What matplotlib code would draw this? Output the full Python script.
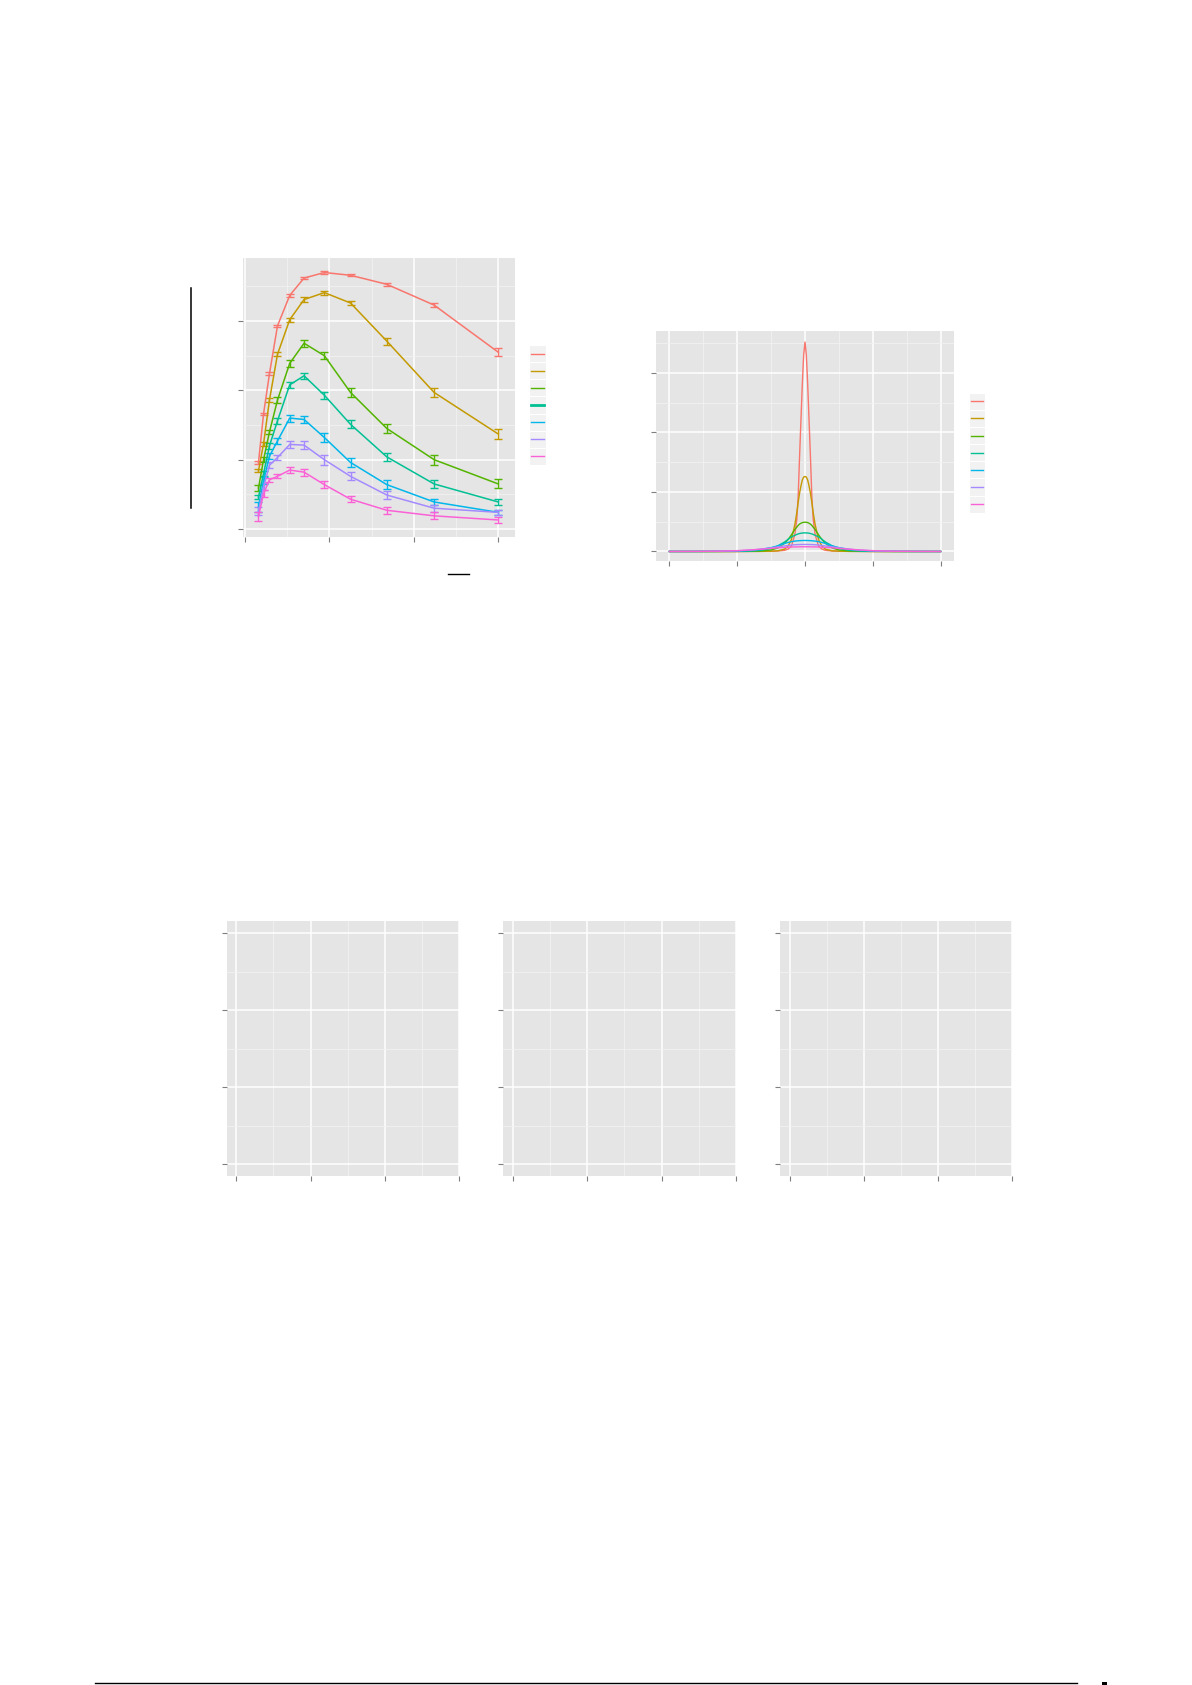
import matplotlib
matplotlib.use("Agg")
import matplotlib.pyplot as plt
import numpy as np

W, H = 1192, 1685

# ggplot default hue palette, 7 groups
colors = ["#F8766D", "#C49A00", "#53B400", "#00C094", "#00B6EB", "#A58AFF", "#FB61D7"]

# ---- left chart: mean curves with error bars ----
x_left = [0.16, 0.22, 0.29, 0.385, 0.53, 0.70, 0.94, 1.25, 1.68, 2.24, 3.0]
y_red    = [0.96, 1.66, 2.24, 2.93, 3.37, 3.62, 3.70, 3.66, 3.53, 3.23, 2.55]
y_orange = [0.84, 1.23, 1.86, 2.52, 3.02, 3.31, 3.41, 3.26, 2.71, 1.97, 1.37]
y_green  = [0.59, 1.00, 1.40, 1.86, 2.39, 2.68, 2.50, 1.97, 1.45, 1.00, 0.65]
y_teal   = [0.46, 0.80, 1.20, 1.56, 2.08, 2.21, 1.93, 1.51, 1.04, 0.65, 0.39]
y_cyan   = [0.32, 0.70, 1.05, 1.27, 1.60, 1.58, 1.32, 0.96, 0.64, 0.39, 0.24]
y_purple = [0.26, 0.61, 0.92, 1.03, 1.22, 1.21, 1.00, 0.76, 0.49, 0.30, 0.24]
y_pink   = [0.18, 0.51, 0.71, 0.76, 0.85, 0.82, 0.64, 0.43, 0.27, 0.19, 0.13]

e_red    = [0.02, 0.02, 0.02, 0.02, 0.02, 0.015, 0.015, 0.015, 0.02, 0.03, 0.055]
e_orange = [0.02, 0.03, 0.03, 0.03, 0.03, 0.03, 0.03, 0.03, 0.05, 0.06, 0.07]
e_green  = [0.04, 0.04, 0.03, 0.04, 0.05, 0.05, 0.05, 0.06, 0.06, 0.07, 0.065]
e_teal   = [0.03, 0.04, 0.04, 0.04, 0.04, 0.04, 0.05, 0.06, 0.06, 0.055, 0.05]
e_cyan   = [0.07, 0.05, 0.04, 0.04, 0.05, 0.05, 0.06, 0.07, 0.06, 0.05, 0.04]
e_purple = [0.06, 0.05, 0.04, 0.04, 0.05, 0.06, 0.07, 0.06, 0.06, 0.05, 0.04]
e_pink   = [0.07, 0.05, 0.03, 0.03, 0.04, 0.05, 0.05, 0.04, 0.05, 0.05, 0.045]

# ---- right chart: peaked profiles (right half, symmetric about 0) ----
x_half = [0, 0.02, 0.04, 0.06, 0.08, 0.10, 0.12, 0.15, 0.20, 0.25, 0.30,
          0.40, 0.50, 0.65, 0.80, 1.0, 1.3, 1.6, 2.0]
p_red    = [3.52, 3.30, 2.80, 2.20, 1.60, 0.95, 0.55, 0.28, 0.09, 0.04, 0.02,
            0.008, 0.004, 0.002, 0.001, 0, 0, 0, 0]
p_orange = [1.26, 1.25, 1.20, 1.10, 0.98, 0.83, 0.66, 0.45, 0.20, 0.09, 0.04,
            0.012, 0.005, 0.002, 0.001, 0, 0, 0, 0]
p_green  = [0.492, 0.49, 0.485, 0.475, 0.46, 0.44, 0.41, 0.37, 0.28, 0.20, 0.14,
            0.06, 0.025, 0.008, 0.003, 0.001, 0, 0, 0]
p_teal   = [0.313, 0.312, 0.31, 0.307, 0.302, 0.295, 0.287, 0.272, 0.245, 0.205, 0.16,
            0.095, 0.05, 0.02, 0.008, 0.003, 0.001, 0, 0]
p_cyan   = [0.185, 0.185, 0.184, 0.183, 0.182, 0.18, 0.178, 0.175, 0.165, 0.152, 0.135,
            0.095, 0.065, 0.035, 0.017, 0.007, 0.002, 0.001, 0]
p_purple = [0.118, 0.118, 0.118, 0.117, 0.116, 0.116, 0.115, 0.113, 0.108, 0.10, 0.093,
            0.08, 0.06, 0.04, 0.024, 0.011, 0.004, 0.001, 0]
p_pink   = [0.079, 0.079, 0.079, 0.079, 0.078, 0.078, 0.077, 0.077, 0.075, 0.071, 0.068,
            0.062, 0.052, 0.038, 0.026, 0.014, 0.005, 0.002, 0]

left_series = [(y_red, e_red), (y_orange, e_orange), (y_green, e_green), (y_teal, e_teal),
               (y_cyan, e_cyan), (y_purple, e_purple), (y_pink, e_pink)]
right_series = [p_red, p_orange, p_green, p_teal, p_cyan, p_purple, p_pink]


def px_axes(fig, left, top, right, bottom):
    # place an axes by its pixel box on the page
    return fig.add_axes([left / W, 1 - bottom / H, (right - left) / W, (bottom - top) / H])


def gg_style(ax, xmaj, ymaj, xmin_, ymin_):
    ax.set_facecolor("#E5E5E5")
    for s in ax.spines.values():
        s.set_visible(False)
    ax.set_xticks(xmaj)
    ax.set_yticks(ymaj)
    ax.set_xticks(xmin_, minor=True)
    ax.set_yticks(ymin_, minor=True)
    ax.grid(which="major", color="white", lw=1.1)
    ax.grid(which="minor", color="#F2F2F2", lw=0.6)
    ax.tick_params(which="major", length=3.5, width=0.8, color="#7F7F7F",
                   labelbottom=False, labelleft=False)
    ax.tick_params(which="minor", length=0)
    ax.set_axisbelow(True)


fig = plt.figure(figsize=(W / 100, H / 100), dpi=100)

# left chart
ax1 = px_axes(fig, 242.7, 258.3, 515, 536.7)
gg_style(ax1, [0, 1, 2, 3], [0, 1, 2, 3], [0.5, 1.5, 2.5], [0.5, 1.5, 2.5, 3.5])
for (ys, es), c in zip(left_series, colors):
    ax1.errorbar(x_left, ys, yerr=es, color=c, lw=1.1, elinewidth=1.0,
                 capsize=2.9, capthick=1.0)
ax1.set_xlim(-0.027, 3.198)
ax1.set_ylim(-0.111, 3.905)

# right chart
ax2 = px_axes(fig, 656, 330.7, 954, 560.7)
gg_style(ax2, [-2, -1, 0, 1, 2], [0, 1, 2, 3], [-1.5, -0.5, 0.5, 1.5], [0.5, 1.5, 2.5, 3.5])
xh = np.array(x_half)
x_full = np.concatenate([-xh[::-1], xh[1:]])
for ys, c in zip(right_series, colors):
    yh = np.array(ys)
    ax2.plot(x_full, np.concatenate([yh[::-1], yh[1:]]), color=c, lw=1.0)
ax2.set_xlim(-2.198, 2.198)
ax2.set_ylim(-0.155, 3.711)

# three empty bottom panels
for left, right in [(226.7, 459.3), (503, 736), (780, 1012)]:
    ax = px_axes(fig, left, 921, right, 1176)
    gg_style(ax, [0, 1, 2, 3], [0, 1, 2, 3], [0.5, 1.5, 2.5], [0.5, 1.5, 2.5])
    ax.set_xlim(-0.129, 3.0)
    ax.set_ylim(-0.152, 3.16)

# page overlay for legends and rules
ov = fig.add_axes([0, 0, 1, 1], zorder=10)
ov.set_xlim(0, W)
ov.set_ylim(H, 0)
ov.axis("off")
ov.patch.set_alpha(0)


def draw_legend(x0, x1, y0, y1, thick=None):
    n = len(colors)
    h = (y1 - y0) / n
    for i, c in enumerate(colors):
        top = y0 + i * h
        ov.add_patch(plt.Rectangle((x0, top), x1 - x0, h, facecolor="#F2F2F2",
                                   edgecolor="white", lw=0.8))
        lw = 1.0
        if thick is not None and i == thick:
            lw = 2.0
        ov.plot([x0 + 2, x1 - 2], [top + h / 2, top + h / 2], color=c, lw=lw)


draw_legend(529, 546, 345, 465, thick=3)
draw_legend(969, 985, 392.7, 512.7)

# stray rules left from the page text
ov.plot([190.7, 190.7], [288, 507.7], color="black", lw=1.1)
ov.plot([448.3, 469], [574, 574], color="black", lw=1.0)
ov.plot([95, 1077], [1683, 1683], color="black", lw=1.0)
ov.add_patch(plt.Rectangle((1101.7, 1682), 5, 3, facecolor="black", lw=0))

fig.savefig("out.png", dpi=100)
